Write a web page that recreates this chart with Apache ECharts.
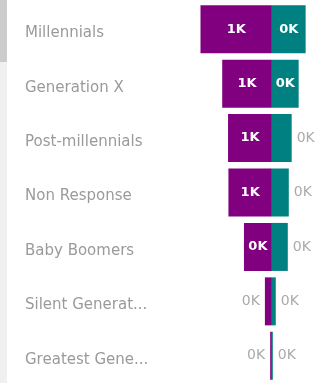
<!DOCTYPE html>
<html><head><meta charset="utf-8">
<script src="https://cdn.jsdelivr.net/npm/echarts@6/dist/echarts.min.js"></script>
<style>html,body{margin:0;padding:0;background:#fff}#c{width:320px;height:383px}</style>
</head><body><div id="c"></div>
<script>
const categories = ['Millennials','Generation X','Post-millennials','Non Response','Baby Boomers','Silent Generation','Greatest Generation'];
const purpleValues = [920, 640, 565, 560, 360, 90, 22];
const tealValues = [435, 345, 255, 218, 205, 50, 12];
const axisMin = -1300, axisMax = 620;

const chart = echarts.init(document.getElementById('c'), null, {renderer:'canvas'});
const gridLeft = 171, gridWidth = 150;
const pxPerUnit = gridWidth / (axisMax - axisMin);
const fmt = v => Math.round(Math.abs(v) / 1000) + 'K';
function items(vals, sign, outsidePos) {
  return vals.map(v => {
    const inside = v * pxPerUnit > 24;
    return {
      value: sign * v,
      label: inside
        ? {position: 'inside', color: '#fff', fontWeight: 'bold', fontSize: 13}
        : {position: outsidePos, color: '#aaa', fontWeight: 'normal', fontSize: 14, distance: 5}
    };
  });
}
chart.setOption({
  animation: false,
  graphic: [
    {type:'rect', shape:{x:0,y:0,width:7,height:383}, style:{fill:'#f0f0f0'}},
    {type:'rect', shape:{x:0,y:0,width:7,height:62}, style:{fill:'#cccccc'}}
  ],
  grid: {left: gridLeft, width: gridWidth, top: 2, height: 387, containLabel: false},
  xAxis: {type:'value', min: axisMin, max: axisMax, show: false},
  yAxis: {
    type:'category', data: categories, inverse: true,
    axisLine:{show:false}, axisTick:{show:false},
    axisLabel:{
      margin: 146, align:'left', color:'#9a9a9a', fontFamily:'DejaVu Sans', fontSize:15,
      width: 126, overflow:'truncate', ellipsis:'...', verticalAlign:'top', lineHeight:8
    }
  },
  series: [
    {type:'bar', stack:'t', barWidth:48, itemStyle:{color:'#800080'},
     label:{show:true, formatter: p => fmt(p.value), fontFamily:'DejaVu Sans'},
     data: items(purpleValues, -1, 'left')},
    {type:'bar', stack:'t', barWidth:48, itemStyle:{color:'#008080'},
     label:{show:true, formatter: p => fmt(p.value), fontFamily:'DejaVu Sans'},
     data: items(tealValues, 1, 'right')}
  ]
});
</script></body></html>
